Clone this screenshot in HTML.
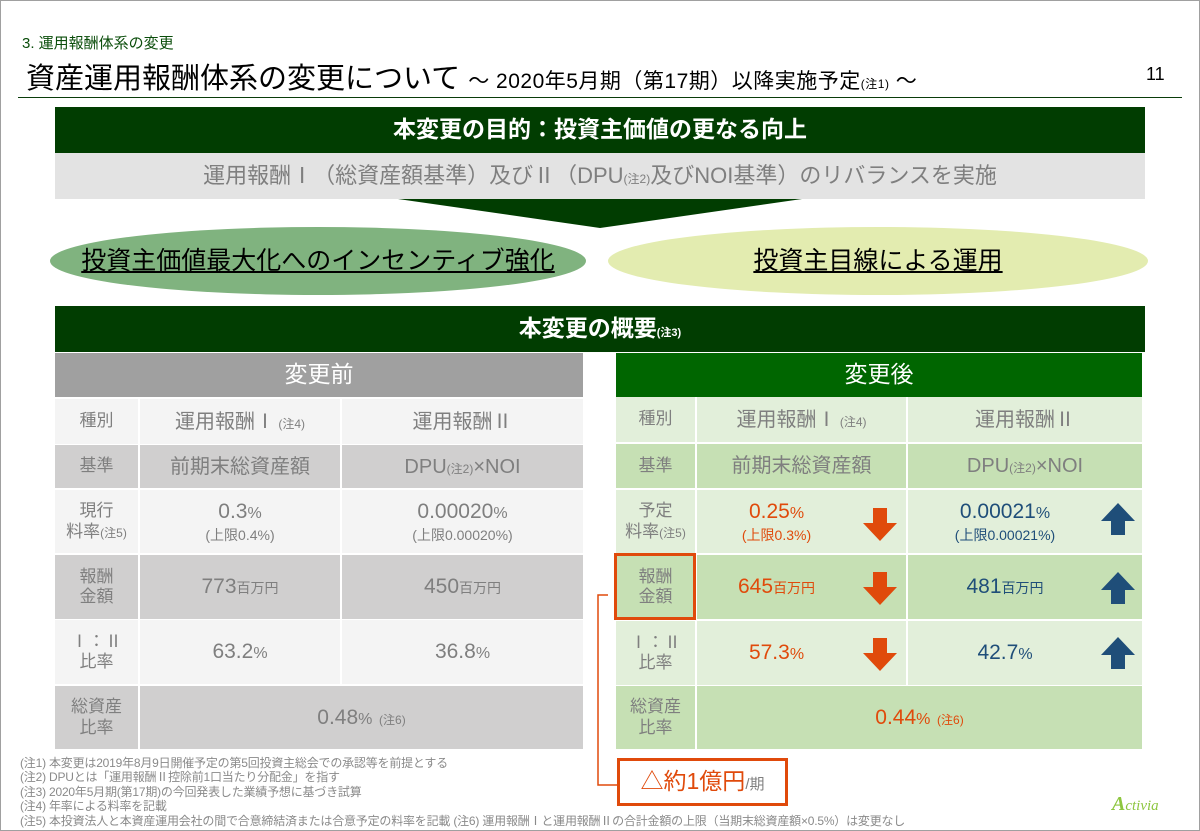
<!DOCTYPE html>
<html><head><meta charset="utf-8">
<style>
*{margin:0;padding:0;box-sizing:border-box}
body{width:1200px;height:831px;position:relative;background:#fff;font-family:"Liberation Sans","Noto Sans CJK JP",sans-serif;overflow:hidden}
.a{position:absolute}
.c{position:absolute;display:flex;align-items:center;justify-content:center;text-align:center;flex-direction:column;line-height:1.2}
.c>div{white-space:nowrap}
.g{color:#7f7f7f}
.lt{background:#f4f4f4}.dk{background:#d0cfcf}
.glt{background:#e2efda}.gdk{background:#c6e0b4}
.o{color:#e04a0b}.b{color:#1f4e79}
.s{font-size:12px}
.fn{position:absolute;left:20px;font-size:12px;color:#8a8a8a;white-space:nowrap;letter-spacing:-0.2px}
</style></head><body>
<div class="a" style="left:0;top:0;width:1200px;height:831px;border:1px solid #a0a0a0"></div>
<div class="a" style="left:22px;top:32px;font-size:15px;color:#0a4d0a">3. 運用報酬体系の変更</div>
<div class="a" style="left:26px;top:55px;font-size:29px;color:#000;white-space:nowrap">資産運用報酬体系の変更について <span style="font-size:21px;letter-spacing:0.5px">～ 2020年5月期（第17期）以降実施予定<span style="font-size:12px">(注1)</span> ～</span></div>
<div class="a" style="left:1146px;top:64px;font-size:18px;color:#000">11</div>
<div class="a" style="left:18px;top:97px;width:1164px;height:1px;background:#0a3d0a"></div>

<div class="c" style="left:55px;top:107px;width:1090px;height:46px;background:#013d01;color:#fff;font-size:23px;font-weight:bold"><div>本変更の目的：投資主価値の更なる向上</div></div>
<div class="c" style="left:55px;top:153px;width:1090px;height:46px;background:#e3e3e3;color:#7f7f7f;font-size:22px"><div>運用報酬Ⅰ（総資産額基準）及びⅡ（DPU<span style="font-size:12px">(注2)</span>及びNOI基準）のリバランスを実施</div></div>
<svg class="a" style="left:0;top:0" width="1200" height="831"><polygon points="398,199 802,199 600,228" fill="#013d01"/>
<ellipse cx="318" cy="261" rx="268" ry="34" fill="#80b37f"/>
<ellipse cx="878" cy="261" rx="270" ry="34" fill="#e3ecb0"/>
<polyline points="608,595 598,595 598,785 617,785" fill="none" stroke="#e04a0b" stroke-width="1.5"/>
</svg>
<div class="c" style="left:50px;top:243px;width:536px;height:36px;font-size:25px;color:#000;text-decoration:underline"><div>投資主価値最大化へのインセンティブ強化</div></div>
<div class="c" style="left:608px;top:243px;width:540px;height:36px;font-size:25px;color:#000;text-decoration:underline"><div>投資主目線による運用</div></div>

<div class="c" style="left:55px;top:306px;width:1090px;height:46px;background:#013d01;color:#fff;font-size:23px;font-weight:bold"><div>本変更の概要<span style="font-size:11px">(注3)</span></div></div>

<!-- left table -->
<div class="c" style="left:55px;top:353px;width:528px;height:44px;background:#a0a0a0;color:#fff;font-size:23px"><div>変更前</div></div>
<div class="c lt g" style="left:55px;top:399px;width:83px;height:45px;font-size:17px"><div>種別</div></div>
<div class="c lt g" style="left:140px;top:399px;width:200px;height:45px;font-size:20px"><div>運用報酬Ⅰ<span class="s"> (注4)</span></div></div>
<div class="c lt g" style="left:342px;top:399px;width:241px;height:45px;font-size:20px"><div>運用報酬Ⅱ</div></div>
<div class="c dk g" style="left:55px;top:445px;width:83px;height:43px;font-size:17px"><div>基準</div></div>
<div class="c dk g" style="left:140px;top:445px;width:200px;height:43px;font-size:20px"><div>前期末総資産額</div></div>
<div class="c dk g" style="left:342px;top:445px;width:241px;height:43px;font-size:20px"><div>DPU<span class="s">(注2)</span>×NOI</div></div>
<div class="c lt g" style="left:55px;top:490px;width:83px;height:63px;font-size:17px"><div>現行</div><div>料率<span class="s">(注5)</span></div></div>
<div class="c lt g" style="left:140px;top:490px;width:200px;height:63px;font-size:21px"><div>0.3<span style="font-size:16px">%</span></div><div style="font-size:14px;margin-top:3px">(上限0.4%)</div></div>
<div class="c lt g" style="left:342px;top:490px;width:241px;height:63px;font-size:21px"><div>0.00020<span style="font-size:16px">%</span></div><div style="font-size:14px;margin-top:3px">(上限0.00020%)</div></div>
<div class="c dk g" style="left:55px;top:555px;width:83px;height:64px;font-size:17px"><div>報酬</div><div>金額</div></div>
<div class="c dk g" style="left:140px;top:555px;width:200px;height:64px;font-size:21px"><div>773<span style="font-size:14px">百万円</span></div></div>
<div class="c dk g" style="left:342px;top:555px;width:241px;height:64px;font-size:21px"><div>450<span style="font-size:14px">百万円</span></div></div>
<div class="c lt g" style="left:55px;top:620px;width:83px;height:64px;font-size:17px"><div>Ⅰ：Ⅱ</div><div>比率</div></div>
<div class="c lt g" style="left:140px;top:620px;width:200px;height:64px;font-size:21px"><div>63.2<span style="font-size:16px">%</span></div></div>
<div class="c lt g" style="left:342px;top:620px;width:241px;height:64px;font-size:21px"><div>36.8<span style="font-size:16px">%</span></div></div>
<div class="c dk g" style="left:55px;top:686px;width:83px;height:63px;font-size:17px"><div>総資産</div><div>比率</div></div>
<div class="c dk g" style="left:140px;top:686px;width:443px;height:63px;font-size:21px"><div>0.48<span style="font-size:16px">%</span><span class="s">&nbsp;&nbsp;(注6)</span></div></div>

<!-- right table -->
<div class="c" style="left:616px;top:353px;width:526px;height:44px;background:#006600;color:#fff;font-size:23px"><div>変更後</div></div>
<div class="c glt g" style="left:616px;top:397px;width:79px;height:45px;font-size:17px"><div>種別</div></div>
<div class="c glt g" style="left:697px;top:397px;width:209px;height:45px;font-size:20px"><div>運用報酬Ⅰ<span class="s"> (注4)</span></div></div>
<div class="c glt g" style="left:908px;top:397px;width:234px;height:45px;font-size:20px"><div>運用報酬Ⅱ</div></div>
<div class="c gdk g" style="left:616px;top:444px;width:79px;height:44px;font-size:17px"><div>基準</div></div>
<div class="c gdk g" style="left:697px;top:444px;width:209px;height:44px;font-size:20px"><div>前期末総資産額</div></div>
<div class="c gdk g" style="left:908px;top:444px;width:234px;height:44px;font-size:20px"><div>DPU<span class="s">(注2)</span>×NOI</div></div>
<div class="c glt g" style="left:616px;top:490px;width:79px;height:63px;font-size:17px"><div>予定</div><div>料率<span class="s">(注5)</span></div></div>
<div class="c glt o" style="left:697px;top:490px;width:209px;height:63px;font-size:21px;padding-right:50px"><div>0.25<span style="font-size:16px">%</span></div><div style="font-size:14px;margin-top:3px">(上限0.3%)</div></div>
<div class="c glt b" style="left:908px;top:490px;width:234px;height:63px;font-size:21px;padding-right:40px"><div>0.00021<span style="font-size:16px">%</span></div><div style="font-size:14px;margin-top:3px">(上限0.00021%)</div></div>
<div class="c gdk g" style="left:616px;top:555px;width:79px;height:64px;font-size:17px"><div>報酬</div><div>金額</div></div>
<div class="c gdk o" style="left:697px;top:555px;width:209px;height:64px;font-size:21px;padding-right:50px"><div>645<span style="font-size:14px">百万円</span></div></div>
<div class="c gdk b" style="left:908px;top:555px;width:234px;height:64px;font-size:21px;padding-right:40px"><div>481<span style="font-size:14px">百万円</span></div></div>
<div class="c glt g" style="left:616px;top:621px;width:79px;height:64px;font-size:17px"><div>Ⅰ：Ⅱ</div><div>比率</div></div>
<div class="c glt o" style="left:697px;top:621px;width:209px;height:64px;font-size:21px;padding-right:50px"><div>57.3<span style="font-size:16px">%</span></div></div>
<div class="c glt b" style="left:908px;top:621px;width:234px;height:64px;font-size:21px;padding-right:40px"><div>42.7<span style="font-size:16px">%</span></div></div>
<div class="c gdk g" style="left:616px;top:686px;width:79px;height:63px;font-size:17px"><div>総資産</div><div>比率</div></div>
<div class="c gdk o" style="left:697px;top:686px;width:445px;height:63px;font-size:21px"><div>0.44<span style="font-size:16px">%</span><span class="s">&nbsp;&nbsp;(注6)</span></div></div>

<div class="a" style="left:614px;top:553px;width:82px;height:67px;border:3px solid #e04a0b"></div>

<svg class="a" style="left:0;top:0" width="1200" height="831">
<g fill="#e04a0b">
<polygon points="873,508 887,508 887,523 897,523 880,541 863,523 873,523"/>
<polygon points="873,572 887,572 887,587 897,587 880,605 863,587 873,587"/>
<polygon points="873,638 887,638 887,653 897,653 880,671 863,653 873,653"/>
</g>
<g fill="#1f4e79">
<polygon points="1118,503 1135,521 1125,521 1125,535 1111,535 1111,521 1101,521"/>
<polygon points="1118,572 1135,590 1125,590 1125,604 1111,604 1111,590 1101,590"/>
<polygon points="1118,637 1135,655 1125,655 1125,669 1111,669 1111,655 1101,655"/>
</g>
</svg>

<div class="c" style="left:617px;top:758px;width:171px;height:48px;border:3px solid #e04a0b;background:#fff;font-size:23px;color:#e04a0b"><div>△約1億円<span style="font-size:15px;color:#7f7f7f">/期</span></div></div>

<div class="fn" style="top:754px">(注1) 本変更は2019年8月9日開催予定の第5回投資主総会での承認等を前提とする</div>
<div class="fn" style="top:768px">(注2) DPUとは「運用報酬Ⅱ控除前1口当たり分配金」を指す</div>
<div class="fn" style="top:783px">(注3) 2020年5月期(第17期)の今回発表した業績予想に基づき試算</div>
<div class="fn" style="top:797px">(注4) 年率による料率を記載</div>
<div class="fn" style="top:812px">(注5) 本投資法人と本資産運用会社の間で合意締結済または合意予定の料率を記載 (注6) 運用報酬Ⅰと運用報酬Ⅱの合計金額の上限（当期末総資産額×0.5%）は変更なし</div>
<div class="a" style="left:1112px;top:793px;font-size:15px;font-style:italic;color:#8dc63f;font-family:'Liberation Serif',serif"><span style="font-size:20px;font-weight:bold">A</span>ctivia</div>
</body></html>
